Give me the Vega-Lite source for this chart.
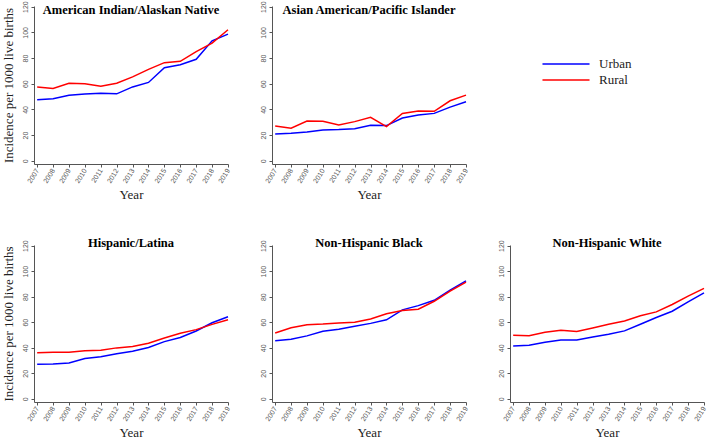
{
  "$schema": "https://vega.github.io/schema/vega-lite/v6.json",
  "background": "white",
  "padding": {"left": 2, "top": 0, "right": 2, "bottom": 2},
  "datasets": {
    "d": [
      {"g": "AIAN", "area": "Urban", "year": 2007, "value": 47.5},
      {"g": "AIAN", "area": "Urban", "year": 2008, "value": 48.3},
      {"g": "AIAN", "area": "Urban", "year": 2009, "value": 51},
      {"g": "AIAN", "area": "Urban", "year": 2010, "value": 52},
      {"g": "AIAN", "area": "Urban", "year": 2011, "value": 52.6},
      {"g": "AIAN", "area": "Urban", "year": 2012, "value": 52.1},
      {"g": "AIAN", "area": "Urban", "year": 2013, "value": 57.5},
      {"g": "AIAN", "area": "Urban", "year": 2014, "value": 61},
      {"g": "AIAN", "area": "Urban", "year": 2015, "value": 72.5},
      {"g": "AIAN", "area": "Urban", "year": 2016, "value": 74.8},
      {"g": "AIAN", "area": "Urban", "year": 2017, "value": 79},
      {"g": "AIAN", "area": "Urban", "year": 2018, "value": 93.4},
      {"g": "AIAN", "area": "Urban", "year": 2019, "value": 98.6},
      {"g": "AIAN", "area": "Rural", "year": 2007, "value": 57.5},
      {"g": "AIAN", "area": "Rural", "year": 2008, "value": 56.3},
      {"g": "AIAN", "area": "Rural", "year": 2009, "value": 60.4},
      {"g": "AIAN", "area": "Rural", "year": 2010, "value": 59.9},
      {"g": "AIAN", "area": "Rural", "year": 2011, "value": 58},
      {"g": "AIAN", "area": "Rural", "year": 2012, "value": 60.4},
      {"g": "AIAN", "area": "Rural", "year": 2013, "value": 65.3},
      {"g": "AIAN", "area": "Rural", "year": 2014, "value": 71.2},
      {"g": "AIAN", "area": "Rural", "year": 2015, "value": 76.4},
      {"g": "AIAN", "area": "Rural", "year": 2016, "value": 77.4},
      {"g": "AIAN", "area": "Rural", "year": 2017, "value": 85},
      {"g": "AIAN", "area": "Rural", "year": 2018, "value": 91.6},
      {"g": "AIAN", "area": "Rural", "year": 2019, "value": 102},
      {"g": "API", "area": "Urban", "year": 2007, "value": 20.9},
      {"g": "API", "area": "Urban", "year": 2008, "value": 21.4},
      {"g": "API", "area": "Urban", "year": 2009, "value": 22.5},
      {"g": "API", "area": "Urban", "year": 2010, "value": 24},
      {"g": "API", "area": "Urban", "year": 2011, "value": 24.3},
      {"g": "API", "area": "Urban", "year": 2012, "value": 25},
      {"g": "API", "area": "Urban", "year": 2013, "value": 27.6},
      {"g": "API", "area": "Urban", "year": 2014, "value": 27.4},
      {"g": "API", "area": "Urban", "year": 2015, "value": 33.3},
      {"g": "API", "area": "Urban", "year": 2016, "value": 35.6},
      {"g": "API", "area": "Urban", "year": 2017, "value": 36.9},
      {"g": "API", "area": "Urban", "year": 2018, "value": 41.8},
      {"g": "API", "area": "Urban", "year": 2019, "value": 46},
      {"g": "API", "area": "Rural", "year": 2007, "value": 27.1},
      {"g": "API", "area": "Rural", "year": 2008, "value": 25.3},
      {"g": "API", "area": "Rural", "year": 2009, "value": 31},
      {"g": "API", "area": "Rural", "year": 2010, "value": 30.7},
      {"g": "API", "area": "Rural", "year": 2011, "value": 27.9},
      {"g": "API", "area": "Rural", "year": 2012, "value": 30.5},
      {"g": "API", "area": "Rural", "year": 2013, "value": 33.8},
      {"g": "API", "area": "Rural", "year": 2014, "value": 26.6},
      {"g": "API", "area": "Rural", "year": 2015, "value": 36.9},
      {"g": "API", "area": "Rural", "year": 2016, "value": 38.7},
      {"g": "API", "area": "Rural", "year": 2017, "value": 38.5},
      {"g": "API", "area": "Rural", "year": 2018, "value": 46.7},
      {"g": "API", "area": "Rural", "year": 2019, "value": 51.1},
      {"g": "HL", "area": "Urban", "year": 2007, "value": 27},
      {"g": "HL", "area": "Urban", "year": 2008, "value": 27.2},
      {"g": "HL", "area": "Urban", "year": 2009, "value": 28},
      {"g": "HL", "area": "Urban", "year": 2010, "value": 31.6},
      {"g": "HL", "area": "Urban", "year": 2011, "value": 32.9},
      {"g": "HL", "area": "Urban", "year": 2012, "value": 35.3},
      {"g": "HL", "area": "Urban", "year": 2013, "value": 37.3},
      {"g": "HL", "area": "Urban", "year": 2014, "value": 40.2},
      {"g": "HL", "area": "Urban", "year": 2015, "value": 44.8},
      {"g": "HL", "area": "Urban", "year": 2016, "value": 48},
      {"g": "HL", "area": "Urban", "year": 2017, "value": 53.1},
      {"g": "HL", "area": "Urban", "year": 2018, "value": 59.6},
      {"g": "HL", "area": "Urban", "year": 2019, "value": 64.3},
      {"g": "HL", "area": "Rural", "year": 2007, "value": 36},
      {"g": "HL", "area": "Rural", "year": 2008, "value": 36.5},
      {"g": "HL", "area": "Rural", "year": 2009, "value": 36.5},
      {"g": "HL", "area": "Rural", "year": 2010, "value": 37.6},
      {"g": "HL", "area": "Rural", "year": 2011, "value": 38.1},
      {"g": "HL", "area": "Rural", "year": 2012, "value": 39.9},
      {"g": "HL", "area": "Rural", "year": 2013, "value": 41},
      {"g": "HL", "area": "Rural", "year": 2014, "value": 43.5},
      {"g": "HL", "area": "Rural", "year": 2015, "value": 47.7},
      {"g": "HL", "area": "Rural", "year": 2016, "value": 51.3},
      {"g": "HL", "area": "Rural", "year": 2017, "value": 54.2},
      {"g": "HL", "area": "Rural", "year": 2018, "value": 58.3},
      {"g": "HL", "area": "Rural", "year": 2019, "value": 62},
      {"g": "NHB", "area": "Urban", "year": 2007, "value": 45.4},
      {"g": "NHB", "area": "Urban", "year": 2008, "value": 46.7},
      {"g": "NHB", "area": "Urban", "year": 2009, "value": 49.3},
      {"g": "NHB", "area": "Urban", "year": 2010, "value": 52.9},
      {"g": "NHB", "area": "Urban", "year": 2011, "value": 54.5},
      {"g": "NHB", "area": "Urban", "year": 2012, "value": 56.8},
      {"g": "NHB", "area": "Urban", "year": 2013, "value": 59.1},
      {"g": "NHB", "area": "Urban", "year": 2014, "value": 61.9},
      {"g": "NHB", "area": "Urban", "year": 2015, "value": 69.7},
      {"g": "NHB", "area": "Urban", "year": 2016, "value": 73},
      {"g": "NHB", "area": "Urban", "year": 2017, "value": 77.2},
      {"g": "NHB", "area": "Urban", "year": 2018, "value": 85.2},
      {"g": "NHB", "area": "Urban", "year": 2019, "value": 92.4},
      {"g": "NHB", "area": "Rural", "year": 2007, "value": 51.6},
      {"g": "NHB", "area": "Rural", "year": 2008, "value": 55.7},
      {"g": "NHB", "area": "Rural", "year": 2009, "value": 58.1},
      {"g": "NHB", "area": "Rural", "year": 2010, "value": 58.6},
      {"g": "NHB", "area": "Rural", "year": 2011, "value": 59.4},
      {"g": "NHB", "area": "Rural", "year": 2012, "value": 59.9},
      {"g": "NHB", "area": "Rural", "year": 2013, "value": 62.5},
      {"g": "NHB", "area": "Rural", "year": 2014, "value": 66.6},
      {"g": "NHB", "area": "Rural", "year": 2015, "value": 69.2},
      {"g": "NHB", "area": "Rural", "year": 2016, "value": 70.2},
      {"g": "NHB", "area": "Rural", "year": 2017, "value": 76.4},
      {"g": "NHB", "area": "Rural", "year": 2018, "value": 84.4},
      {"g": "NHB", "area": "Rural", "year": 2019, "value": 91.4},
      {"g": "NHW", "area": "Urban", "year": 2007, "value": 41.4},
      {"g": "NHW", "area": "Urban", "year": 2008, "value": 41.9},
      {"g": "NHW", "area": "Urban", "year": 2009, "value": 44.3},
      {"g": "NHW", "area": "Urban", "year": 2010, "value": 46.1},
      {"g": "NHW", "area": "Urban", "year": 2011, "value": 46.1},
      {"g": "NHW", "area": "Urban", "year": 2012, "value": 48.5},
      {"g": "NHW", "area": "Urban", "year": 2013, "value": 50.6},
      {"g": "NHW", "area": "Urban", "year": 2014, "value": 53.2},
      {"g": "NHW", "area": "Urban", "year": 2015, "value": 58.4},
      {"g": "NHW", "area": "Urban", "year": 2016, "value": 63.7},
      {"g": "NHW", "area": "Urban", "year": 2017, "value": 68.6},
      {"g": "NHW", "area": "Urban", "year": 2018, "value": 76},
      {"g": "NHW", "area": "Urban", "year": 2019, "value": 83},
      {"g": "NHW", "area": "Rural", "year": 2007, "value": 49.8},
      {"g": "NHW", "area": "Rural", "year": 2008, "value": 49.5},
      {"g": "NHW", "area": "Rural", "year": 2009, "value": 52.1},
      {"g": "NHW", "area": "Rural", "year": 2010, "value": 53.7},
      {"g": "NHW", "area": "Rural", "year": 2011, "value": 52.7},
      {"g": "NHW", "area": "Rural", "year": 2012, "value": 55.5},
      {"g": "NHW", "area": "Rural", "year": 2013, "value": 58.4},
      {"g": "NHW", "area": "Rural", "year": 2014, "value": 61},
      {"g": "NHW", "area": "Rural", "year": 2015, "value": 65},
      {"g": "NHW", "area": "Rural", "year": 2016, "value": 68.1},
      {"g": "NHW", "area": "Rural", "year": 2017, "value": 73.9},
      {"g": "NHW", "area": "Rural", "year": 2018, "value": 80.4},
      {"g": "NHW", "area": "Rural", "year": 2019, "value": 86.5}
    ]
  },
  "bounds": "flush",
  "columns": 3,
  "spacing": {"column": 44, "row": 81},
  "concat": [
    {
      "width": 194, "height": 158,
      "title": {"text": "American Indian/Alaskan Native", "offset": -16},
      "data": {"name": "d"},
      "transform": [{"filter": "datum.g === 'AIAN'"}],
      "mark": {"type": "line", "strokeWidth": 1.5},
      "encoding": {
        "x": {"field": "year", "type": "quantitative", "scale": {"domain": [2006.8, 2019], "nice": false, "zero": false}, "axis": {"values": [2007,2008,2009,2010,2011,2012,2013,2014,2015,2016,2017,2018,2019], "format": "d", "title": "Year"}},
        "y": {"field": "value", "type": "quantitative", "scale": {"domain": [-2.5, 120.5], "nice": false}, "axis": {"values": [0,20,40,60,80,100,120], "title": "Incidence per 1000 live births"}},
        "color": {"field": "area", "type": "nominal", "scale": {"domain": ["Urban", "Rural"], "range": ["#0000ff", "#ff0000"]}}
      }
    },
    {
      "width": 194, "height": 158,
      "title": {"text": "Asian American/Pacific Islander", "offset": -16},
      "data": {"name": "d"},
      "transform": [{"filter": "datum.g === 'API'"}],
      "mark": {"type": "line", "strokeWidth": 1.5},
      "encoding": {
        "x": {"field": "year", "type": "quantitative", "scale": {"domain": [2006.8, 2019], "nice": false, "zero": false}, "axis": {"values": [2007,2008,2009,2010,2011,2012,2013,2014,2015,2016,2017,2018,2019], "format": "d", "title": "Year"}},
        "y": {"field": "value", "type": "quantitative", "scale": {"domain": [-2.5, 120.5], "nice": false}, "axis": {"values": [0,20,40,60,80,100,120], "title": null}},
        "color": {"field": "area", "type": "nominal", "scale": {"domain": ["Urban", "Rural"], "range": ["#0000ff", "#ff0000"]}}
      }
    },
    {
      "width": 194, "height": 158,
      "data": {"name": "d"},
      "transform": [{"filter": "false"}],
      "mark": {"type": "line", "strokeWidth": 1.5},
      "encoding": {
        "x": {"field": "year", "type": "quantitative", "axis": null},
        "y": {"field": "value", "type": "quantitative", "axis": null},
        "color": {"field": "area", "type": "nominal", "scale": {"domain": ["Urban", "Rural"], "range": ["#0000ff", "#ff0000"]}}
      }
    },
    {
      "width": 194, "height": 157,
      "title": {"text": "Hispanic/Latina", "offset": -10},
      "data": {"name": "d"},
      "transform": [{"filter": "datum.g === 'HL'"}],
      "mark": {"type": "line", "strokeWidth": 1.5},
      "encoding": {
        "x": {"field": "year", "type": "quantitative", "scale": {"domain": [2006.8, 2019], "nice": false, "zero": false}, "axis": {"values": [2007,2008,2009,2010,2011,2012,2013,2014,2015,2016,2017,2018,2019], "format": "d", "title": "Year"}},
        "y": {"field": "value", "type": "quantitative", "scale": {"domain": [-2.5, 120.5], "nice": false}, "axis": {"values": [0,20,40,60,80,100,120], "title": "Incidence per 1000 live births"}},
        "color": {"field": "area", "type": "nominal", "scale": {"domain": ["Urban", "Rural"], "range": ["#0000ff", "#ff0000"]}}
      }
    },
    {
      "width": 194, "height": 157,
      "title": {"text": "Non-Hispanic Black", "offset": -10},
      "data": {"name": "d"},
      "transform": [{"filter": "datum.g === 'NHB'"}],
      "mark": {"type": "line", "strokeWidth": 1.5},
      "encoding": {
        "x": {"field": "year", "type": "quantitative", "scale": {"domain": [2006.8, 2019], "nice": false, "zero": false}, "axis": {"values": [2007,2008,2009,2010,2011,2012,2013,2014,2015,2016,2017,2018,2019], "format": "d", "title": "Year"}},
        "y": {"field": "value", "type": "quantitative", "scale": {"domain": [-2.5, 120.5], "nice": false}, "axis": {"values": [0,20,40,60,80,100,120], "title": null}},
        "color": {"field": "area", "type": "nominal", "scale": {"domain": ["Urban", "Rural"], "range": ["#0000ff", "#ff0000"]}}
      }
    },
    {
      "width": 194, "height": 157,
      "title": {"text": "Non-Hispanic White", "offset": -10},
      "data": {"name": "d"},
      "transform": [{"filter": "datum.g === 'NHW'"}],
      "mark": {"type": "line", "strokeWidth": 1.5},
      "encoding": {
        "x": {"field": "year", "type": "quantitative", "scale": {"domain": [2006.8, 2019], "nice": false, "zero": false}, "axis": {"values": [2007,2008,2009,2010,2011,2012,2013,2014,2015,2016,2017,2018,2019], "format": "d", "title": "Year"}},
        "y": {"field": "value", "type": "quantitative", "scale": {"domain": [-2.5, 120.5], "nice": false}, "axis": {"values": [0,20,40,60,80,100,120], "title": null}},
        "color": {"field": "area", "type": "nominal", "scale": {"domain": ["Urban", "Rural"], "range": ["#0000ff", "#ff0000"]}}
      }
    }
  ],
  "resolve": {"scale": {"x": "independent", "y": "independent"}},
  "config": {
    "view": {"stroke": null},
    "title": {"font": "Liberation Serif", "fontSize": 12.5, "fontWeight": "bold", "color": "#000", "anchor": "middle", "frame": "group"},
    "axis": {
      "grid": false,
      "domainColor": "#555",
      "tickColor": "#555",
      "tickSize": 3,
      "labelFont": "Liberation Sans",
      "labelFontSize": 7,
      "labelColor": "#555",
      "titleFont": "Liberation Serif",
      "titleFontSize": 13,
      "titleFontWeight": "normal",
      "titleColor": "#222"
    },
    "axisX": {"labelAngle": -58, "labelAlign": "right", "labelBaseline": "middle", "labelPadding": 2, "titlePadding": 5},
    "axisY": {"labelAngle": -90, "labelAlign": "center", "labelBaseline": "bottom", "labelPadding": 3, "titlePadding": 6},
    "legend": {
      "orient": "none",
      "legendX": 523,
      "legendY": 49,
      "title": null,
      "symbolType": "M-3,0H3",
      "symbolSize": 246,
      "symbolStrokeWidth": 1.5,
      "symbolFillColor": "transparent",
      "labelFont": "Liberation Serif",
      "labelFontSize": 13,
      "labelColor": "#222",
      "labelOffset": 24,
      "rowPadding": 0
    }
  }
}
